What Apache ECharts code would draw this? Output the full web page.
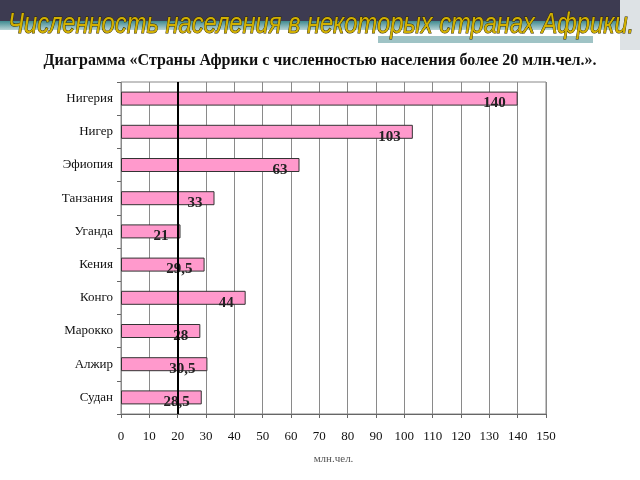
<!DOCTYPE html>
<html>
<head>
<meta charset="utf-8">
<script src="https://cdn.jsdelivr.net/npm/echarts@6/dist/echarts.min.js"></script>
<style>html,body{margin:0;padding:0;background:#fff}#c{width:640px;height:480px}</style>
</head>
<body>
<div id="c"></div>
<script>
var categories = ['Нигерия','Нигер','Эфиопия','Танзания','Уганда','Кения','Конго','Марокко','Алжир','Судан'];
var population = [140, 103, 63, 33, 21, 29.5, 44, 28, 30.5, 28.5];
var xTicks = {min: 0, max: 150, interval: 10};
var axisCross = 20;

var chart = echarts.init(document.getElementById('c'));
chart.setOption({
  animation: false,
  backgroundColor: '#ffffff',
  graphic: [
    {type: 'rect', shape: {x: 0, y: 0, width: 620, height: 21}, style: {fill: '#3d3b51'}, z: 0},
    {type: 'rect', shape: {x: 0, y: 21, width: 620, height: 9},
      style: {fill: new echarts.graphic.LinearGradient(0, 0, 0, 1, [{offset: 0, color: '#3f8a90'}, {offset: 1, color: '#b9d4d6'}])}, z: 0},
    {type: 'rect', shape: {x: 378, y: 36, width: 215, height: 7}, style: {fill: '#9fc3c5'}, z: 0},
    {type: 'rect', shape: {x: 620, y: 0, width: 20, height: 50}, style: {fill: '#dde2e5'}, z: 0},
    {type: 'text', x: 8, y: 10, scaleX: 0.79, z: 5,
      style: {text: 'Численность населения в некоторых странах Африки.', fill: '#d2b000', stroke: '#2e2800', lineWidth: 1,
        font: 'italic 30px "Liberation Sans", Arial, sans-serif'}},
    {type: 'text', left: 'center', top: 53, z: 5,
      style: {text: 'Диаграмма «Страны Африки с численностью населения более 20 млн.чел.».', fill: '#111',
        font: 'bold 16px "Liberation Serif", "Times New Roman", serif'}}
  ],
  grid: {left: 121, right: 94, top: 82, bottom: 66, show: true, borderColor: '#888', borderWidth: 1, backgroundColor: 'transparent'},
  xAxis: {
    type: 'value', min: xTicks.min, max: xTicks.max, interval: xTicks.interval,
    axisLine: {show: true, lineStyle: {color: '#666'}},
    axisTick: {show: true, length: 4, lineStyle: {color: '#666'}},
    splitLine: {show: true, lineStyle: {color: '#8a8a8a', width: 1}},
    axisLabel: {color: '#111', fontFamily: '"Liberation Serif", serif', fontSize: 13, margin: 16},
    name: 'млн.чел.', nameLocation: 'middle', nameGap: 40,
    nameTextStyle: {color: '#555', fontFamily: '"Liberation Serif", serif', fontSize: 11}
  },
  yAxis: {
    type: 'category', inverse: true, data: categories,
    axisLine: {show: false},
    axisTick: {show: true, length: 4, lineStyle: {color: '#666'}},
    axisLabel: {color: '#111', fontFamily: '"Liberation Serif", serif', fontSize: 13, margin: 8}
  },
  series: [{
    type: 'bar', data: population, barWidth: 14,
    itemStyle: {color: '#ff99cc', borderColor: '#333', borderWidth: 1},
    label: {show: true, position: 'insideRight', distance: 12, offset: [0, 5],
      formatter: function (p) { return String(p.value).replace('.', ','); },
      color: '#222', fontFamily: '"Liberation Serif", serif', fontWeight: 'bold', fontSize: 15},
    markLine: {silent: true, symbol: 'none', label: {show: false},
      lineStyle: {color: '#000', width: 2, type: 'solid'},
      data: [{xAxis: axisCross}]}
  }]
});
</script>
</body>
</html>
